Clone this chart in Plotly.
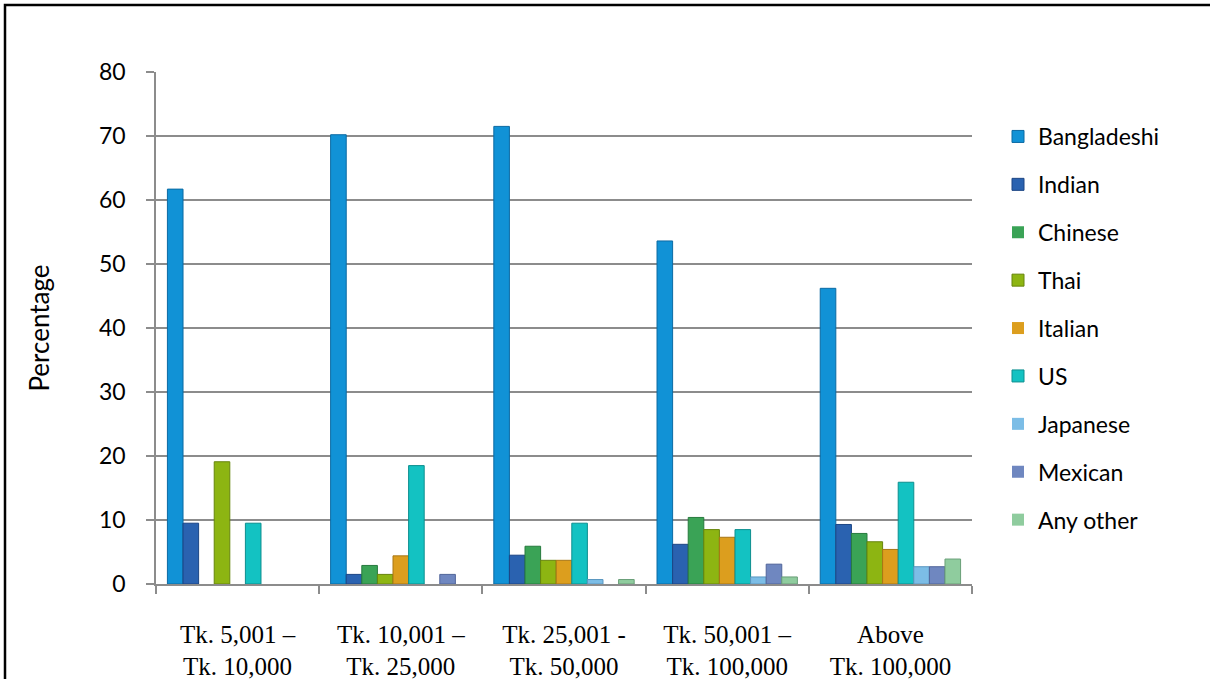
import plotly.graph_objects as go

# Monthly income brackets (x categories)
income_groups = [
    "Tk. 5,001 –<br>Tk. 10,000",
    "Tk. 10,001 –<br>Tk. 25,000",
    "Tk. 25,001 -<br>Tk. 50,000",
    "Tk. 50,001 –<br>Tk. 100,000",
    "Above<br>Tk. 100,000",
]

# Percentage preferring each cuisine, per income bracket
bangladeshi = [61.7, 70.2, 71.5, 53.6, 46.2]
indian = [9.5, 1.5, 4.5, 6.2, 9.3]
chinese = [0, 2.9, 5.9, 10.4, 7.9]
thai = [19.1, 1.5, 3.7, 8.5, 6.6]
italian = [0, 4.4, 3.7, 7.3, 5.4]
us = [9.5, 18.5, 9.5, 8.5, 15.9]
japanese = [0, 0, 0.7, 1.1, 2.7]
mexican = [0, 1.5, 0, 3.1, 2.7]
any_other = [0, 0, 0.7, 1.1, 3.9]

y_ticks = [0, 10, 20, 30, 40, 50, 60, 70, 80]

series = [
    ("Bangladeshi", bangladeshi, "#1192d6", "#0b6aa3"),
    ("Indian", indian, "#2a62b0", "#1c4584"),
    ("Chinese", chinese, "#3aa356", "#277a3e"),
    ("Thai", thai, "#8db512", "#67850c"),
    ("Italian", italian, "#dc9e1e", "#a87614"),
    ("US", us, "#13c2c2", "#0d8f8f"),
    ("Japanese", japanese, "#7cbde6", "#5a97c0"),
    ("Mexican", mexican, "#6f87c0", "#51659a"),
    ("Any other", any_other, "#8fcc9e", "#6a9f78"),
]

fig = go.Figure()
for i, (name, vals, fill, edge) in enumerate(series):
    fig.add_trace(go.Bar(
        name=name,
        x=income_groups,
        y=vals,
        legendgroup=f"g{i}",
        marker=dict(
            color=fill,
            # outline only on bars that have height
            line=dict(color=edge, width=[1 if v > 0 else 0 for v in vals]),
        ),
    ))

GRID = "#8c8c8c"
L, R, T, B = 156, 238, 72, 95
W, H = 1210, 679
pw, ph = W - L - R, H - T - B


def px_x(p):
    return (p - L) / pw


def px_y(p):
    return (H - B - p) / ph


fig.update_layout(
    width=W,
    height=H,
    margin=dict(l=L, r=R, t=T, b=B, autoexpand=False),
    paper_bgcolor="white",
    plot_bgcolor="white",
    barmode="group",
    bargap=0.14,
    bargroupgap=0,
    font=dict(family="Lato, sans-serif", size=23, color="black"),
    legend=dict(
        x=px_x(998),
        y=px_y(115),
        xanchor="left",
        yanchor="top",
        tracegroupgap=15,
        font=dict(family="Lato, sans-serif", size=23, color="black"),
        itemwidth=30,
        bgcolor="rgba(0,0,0,0)",
    ),
    xaxis=dict(
        type="category",
        automargin=False,
        showline=True,
        linecolor=GRID,
        linewidth=1.5,
        ticks="outside",
        tickson="boundaries",
        ticklen=8,
        tickwidth=1.5,
        tickcolor=GRID,
        tickfont=dict(family="Liberation Serif, Times New Roman, serif", size=25, color="black"),
        ticklabelstandoff=27,
        showgrid=False,
    ),
    yaxis=dict(
        range=[0, 80],
        tickvals=y_ticks,
        automargin=False,
        showline=True,
        linecolor=GRID,
        linewidth=1.5,
        ticks="outside",
        ticklen=8,
        tickwidth=1.5,
        tickcolor=GRID,
        showgrid=True,
        gridcolor=GRID,
        gridwidth=1.5,
        zeroline=False,
        ticklabelstandoff=16,
        title=dict(text="Percentage", standoff=42,
                   font=dict(family="Lato, sans-serif", size=26)),
    ),
    shapes=[dict(
        type="rect",
        xref="paper",
        yref="paper",
        x0=px_x(5),
        x1=px_x(1230),
        y0=px_y(720),
        y1=px_y(5),
        line=dict(color="black", width=2.5),
        fillcolor="rgba(0,0,0,0)",
        layer="above",
    )],
)

fig.write_html("out.html")
